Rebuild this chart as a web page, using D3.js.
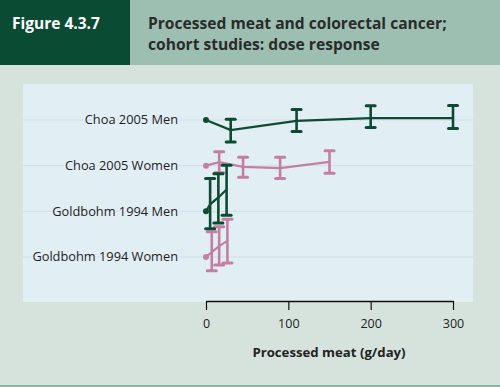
<!DOCTYPE html>
<html>
<head>
<meta charset="utf-8">
<script src="https://cdn.jsdelivr.net/npm/d3@7"></script>
<style>
  body { margin: 0; background: #d6e3dd; }
  svg { display: block; }
</style>
</head>
<body>
<div id="chart"></div>
<script>
// studies, top to bottom
const studies = ['Choa 2005 Men', 'Choa 2005 Women', 'Goldbohm 1994 Men', 'Goldbohm 1994 Women']
const studyColor = ['green', 'pink', 'green', 'pink']

// dose (g/day), relative risk and 95% CI per study
const choaMenDose = [0, 30, 110, 200, 300]
const choaMenRR = [1.0, 0.78, 0.98, 1.05, 1.05]
const choaMenLo = [null, 0.58, 0.75, 0.83, 0.81]
const choaMenHi = [null, 1.02, 1.3, 1.42, 1.43]

const choaWomenDose = [0, 16, 45, 90, 150]
const choaWomenRR = [1.0, 1.09, 0.97, 0.94, 1.1]
const choaWomenLo = [null, 0.84, 0.75, 0.73, 0.83]
const choaWomenHi = [null, 1.41, 1.23, 1.23, 1.45]

const goldMenDose = [0, 5, 15, 25]
const goldMenRR = [1.0, 1.19, 1.41, 1.72]
const goldMenLo = [null, 0.65, 0.75, 0.91]
const goldMenHi = [null, 2.25, 2.54, 3.12]

const goldWomenDose = [0, 7, 16, 26]
const goldWomenRR = [1.0, 1.13, 1.31, 1.49]
const goldWomenLo = [null, 0.71, 0.82, 0.86]
const goldWomenHi = [null, 1.87, 2.12, 2.54]

const xTicks = [0, 100, 200, 300]

const width = 500
const height = 387
const colors = { green: '#0d4a31', pink: '#c47ea3' }

const series = [
  [choaMenDose, choaMenRR, choaMenLo, choaMenHi],
  [choaWomenDose, choaWomenRR, choaWomenLo, choaWomenHi],
  [goldMenDose, goldMenRR, goldMenLo, goldMenHi],
  [goldWomenDose, goldWomenRR, goldWomenLo, goldWomenHi],
].map(([dose, rr, lo, hi], i) => ({
  study: studies[i],
  color: colors[studyColor[i]],
  points: dose.map((d, j) => ({ dose: d, rr: rr[j], lo: lo[j], hi: hi[j] })),
}))

const svg = d3.select('#chart').append('svg').attr('width', width).attr('height', height)

// header
svg.append('rect').attr('x', 0).attr('y', 0).attr('width', width).attr('height', 65).attr('fill', '#9dbfb1')
svg.append('rect').attr('x', 0).attr('y', 0).attr('width', 130).attr('height', 65).attr('fill', '#0a4c33')
svg.append('text').attr('x', 12).attr('y', 29).attr('fill', '#fff')
  .style('font', 'bold 15.5px "Open Sans", sans-serif').text('Figure 4.3.7')
const title = svg.append('text').attr('fill', '#2b2b2b').style('font', 'bold 15.6px "Open Sans", sans-serif')
title.append('tspan').attr('x', 148).attr('y', 29).text('Processed meat and colorectal cancer;')
title.append('tspan').attr('x', 148).attr('y', 50).text('cohort studies: dose response')

// bottom rule
svg.append('rect').attr('x', 0).attr('y', 385).attr('width', width).attr('height', 2).attr('fill', '#8fb2a4')

// panel
svg.append('rect').attr('x', 23).attr('y', 84).attr('width', 450).attr('height', 218).attr('fill', '#e1eef4')

const x = d3.scaleLinear().domain([0, 300]).range([206, 453])
const row = d3.scalePoint().domain(studies).range([120, 257])
const off = d3.scaleLog().domain([0.5, 2]).range([28, -28])
const yPos = (study, v) => row(study) + off(v)

// grid lines
svg.append('g').selectAll('line').data(studies).join('line')
  .attr('x1', 23).attr('x2', 473)
  .attr('y1', (d) => row(d)).attr('y2', (d) => row(d))
  .attr('stroke', '#cfdee5').attr('stroke-width', 1)

// row labels
svg.append('g').selectAll('text').data(studies).join('text')
  .attr('x', 178).attr('y', (d) => row(d)).attr('dy', '0.35em')
  .attr('text-anchor', 'end')
  .attr('fill', '#222')
  .attr('stroke', '#e1eef4').attr('stroke-width', 4).attr('paint-order', 'stroke')
  .style('font', '12.8px "Open Sans", sans-serif')
  .text((d) => d)

// x axis
const axis = svg.append('g').attr('transform', 'translate(0,301)')
  .call(d3.axisBottom(x).tickValues(xTicks).tickSize(9).tickPadding(9).tickSizeOuter(0))
axis.select('.domain').attr('stroke', '#111').attr('stroke-width', 1.5)
axis.selectAll('.tick line').attr('stroke', '#111').attr('stroke-width', 1.2)
axis.selectAll('.tick text').attr('fill', '#222').style('font', '12.5px "Open Sans", sans-serif')

svg.append('text').attr('x', 329).attr('y', 357).attr('text-anchor', 'middle')
  .attr('fill', '#222').style('font', 'bold 13.2px "Open Sans", sans-serif')
  .text('Processed meat (g/day)')

// draw pink series first so green sits on top
const order = [1, 3, 0, 2]
const line = d3.line()

order.forEach((i) => {
  const s = series[i]
  const g = svg.append('g')
  g.append('path')
    .attr('d', line(s.points.map((p) => [x(p.dose), yPos(s.study, p.rr)])))
    .attr('fill', 'none').attr('stroke', s.color).attr('stroke-width', 2.2)

  const ci = s.points.filter((p) => p.lo != null)
  g.selectAll('.bar').data(ci).join('line').attr('class', 'bar')
    .attr('x1', (p) => x(p.dose)).attr('x2', (p) => x(p.dose))
    .attr('y1', (p) => yPos(s.study, p.lo)).attr('y2', (p) => yPos(s.study, p.hi))
    .attr('stroke', s.color).attr('stroke-width', 2.6)

  const caps = ci.flatMap((p) => [{ dose: p.dose, v: p.lo }, { dose: p.dose, v: p.hi }])
  g.selectAll('.cap').data(caps).join('line').attr('class', 'cap')
    .attr('x1', (c) => x(c.dose) - 4.5).attr('x2', (c) => x(c.dose) + 4.5)
    .attr('y1', (c) => yPos(s.study, c.v)).attr('y2', (c) => yPos(s.study, c.v))
    .attr('stroke', s.color).attr('stroke-width', 3).attr('stroke-linecap', 'round')

  const ref = s.points.filter((p) => p.lo == null)
  g.selectAll('circle').data(ref).join('circle')
    .attr('cx', (p) => x(p.dose)).attr('cy', (p) => yPos(s.study, p.rr))
    .attr('r', 3).attr('fill', s.color)
})
</script>
</body>
</html>
